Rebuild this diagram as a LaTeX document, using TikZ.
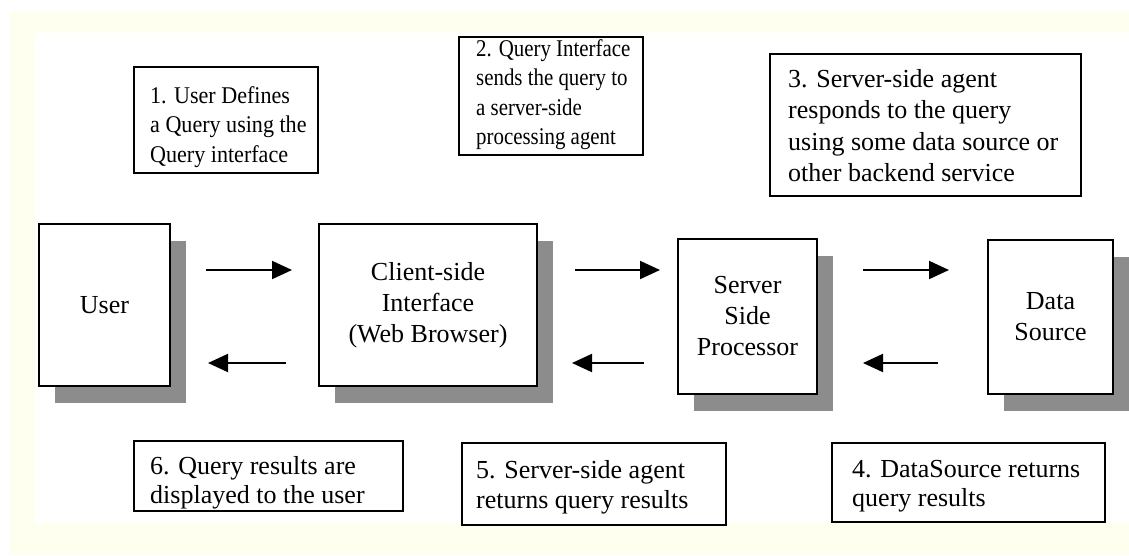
\documentclass[tikz,border=0pt]{standalone}
\usepackage{fontspec}
\setmainfont{Liberation Serif}
\newfontfamily\narrowA[FakeStretch=0.92]{Liberation Serif}
\newfontfamily\narrowB[FakeStretch=0.87]{Liberation Serif}
\usetikzlibrary{arrows.meta,shadows}
\definecolor{ivory}{RGB}{255,255,240}
\definecolor{shade}{RGB}{140,140,140}
\begin{document}
\begin{tikzpicture}[x=1pt,y=-1pt,
  mainbox/.style={draw=black, line width=2pt, fill=white, inner sep=0pt, anchor=north west,
    align=center, font=\fontsize{26}{31}\selectfont,
    drop shadow={shadow xshift=16pt, shadow yshift=-17pt, fill=shade, opacity=1}},
  descbox/.style={draw=black, line width=2pt, fill=white, inner sep=0pt, anchor=north west},
  desctext/.style={inner sep=0pt, anchor=north west, align=left, font=\fontsize{26}{30}\selectfont},
  bigtext/.style={desctext, font=\fontsize{26}{31.5}\selectfont},
  flow/.style={line width=2pt, -{Triangle[length=20pt,width=18pt]}}
]
\useasboundingbox (0,0) rectangle (1129,555);
\fill[white] (0,0) rectangle (1129,555);
\fill[ivory] (10,12) rectangle (1129,555);
\fill[white] (35,33) rectangle (1129,523);

% description boxes
\node[descbox, minimum width=184pt, minimum height=106pt] (b1) at (133,66) {};
\node[desctext, font=\narrowA\fontsize{24}{29.5}\selectfont] (t1) at (150,86) {1. User Defines\\a Query using the\\Query interface};
\node[descbox, minimum width=184pt, minimum height=118pt] (b2) at (458,36) {};
\node[desctext, font=\narrowB\fontsize{24}{29.5}\selectfont] (t2) at (476,39) {2. Query Interface\\sends the query to\\a server-side\\processing agent};
\node[descbox, minimum width=311pt, minimum height=142pt] (b3) at (769,53) {};
\node[bigtext] (t3) at (788,69) {3. Server-side agent\\responds to the query\\using some data source or\\other backend service};
\node[descbox, minimum width=273pt, minimum height=79pt] (b4) at (831,442) {};
\node[desctext, font=\fontsize{26}{29}\selectfont] (t4) at (852,460) {4. DataSource returns\\query results};
\node[descbox, minimum width=264pt, minimum height=82pt] (b5) at (461,442) {};
\node[desctext] (t5) at (476,460) {5. Server-side agent\\returns query results};
\node[descbox, minimum width=269pt, minimum height=70pt] (b6) at (133,440) {};
\node[desctext, font=\fontsize{26}{29}\selectfont] (t6) at (150,456) {6. Query results are\\displayed to the user};

% main boxes
\node[mainbox, minimum width=131pt, minimum height=162pt] (user) at (38,223) {User};
\node[mainbox, minimum width=218pt, minimum height=162pt] (client) at (318,223) {Client-side\\Interface\\(Web Browser)};
\node[mainbox, minimum width=139pt, minimum height=155pt] (server) at (677,238) {Server\\Side\\Processor};
\node[mainbox, minimum width=125pt, minimum height=154pt] (data) at (987,239) {Data\\Source};

% arrows
\coordinate (a1s) at (206,270); \coordinate (a1e) at (292,270);
\coordinate (a2s) at (286,363); \coordinate (a2e) at (208,363);
\coordinate (a3s) at (575,270); \coordinate (a3e) at (660,270);
\coordinate (a4s) at (644,363); \coordinate (a4e) at (572,363);
\coordinate (a5s) at (863,270); \coordinate (a5e) at (949,270);
\coordinate (a6s) at (938,363); \coordinate (a6e) at (863,363);
\draw[flow] (a1s) -- (a1e);
\draw[flow] (a2s) -- (a2e);
\draw[flow] (a3s) -- (a3e);
\draw[flow] (a4s) -- (a4e);
\draw[flow] (a5s) -- (a5e);
\draw[flow] (a6s) -- (a6e);
\end{tikzpicture}
\end{document}
